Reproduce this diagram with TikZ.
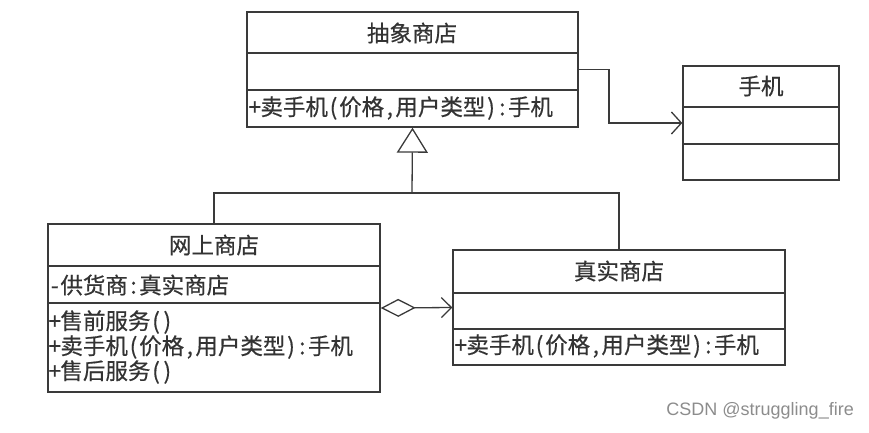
\documentclass[tikz,border=0pt]{standalone}
\usepackage{fontspec}
\newfontfamily\cjk[FakeBold=0.5]{Noto Sans CJK SC}
\newfontfamily\wm{Liberation Sans}
\usetikzlibrary{arrows.meta}
\definecolor{ln}{HTML}{3A3A3A}
\definecolor{tx}{HTML}{333333}
\newcommand\hw[1]{\makebox[0.5em]{#1}}
\tikzset{
  box/.style={draw=ln, line width=1.4pt, fill=white, inner sep=0pt},
  div/.style={draw=ln, line width=1.4pt},
  conn/.style={draw=ln, line width=1.3pt},
  ttl/.style={text=tx, font=\cjk\fontsize{22.5}{24}\selectfont, inner sep=0pt},
  mem/.style={text=tx, font=\cjk\fontsize{22.5}{24}\selectfont, inner sep=0pt, anchor=west},
}
\begin{document}
\begin{tikzpicture}[x=1pt,y=-1pt]
\useasboundingbox (0,0) rectangle (869,432);
% boxes
\node[box, minimum width=331, minimum height=115] (abs) at (412.5,69.5) {};
\node[box, minimum width=156, minimum height=114] (phone) at (761,123) {};
\node[box, minimum width=332, minimum height=168] (ws) at (214,308) {};
\node[box, minimum width=332, minimum height=115] (zs) at (619,307.5) {};
% dividers
\draw[div] (abs.west |- 0,53) -- (abs.east |- 0,53);
\draw[div] (abs.west |- 0,90) -- (abs.east |- 0,90);
\draw[div] (phone.west |- 0,107) -- (phone.east |- 0,107);
\draw[div] (phone.west |- 0,144) -- (phone.east |- 0,144);
\draw[div] (ws.west |- 0,266) -- (ws.east |- 0,266);
\draw[div] (ws.west |- 0,303) -- (ws.east |- 0,303);
\draw[div] (zs.west |- 0,293) -- (zs.east |- 0,293);
\draw[div] (zs.west |- 0,329) -- (zs.east |- 0,329);
% texts
\node[ttl] (absT) at (412,33) {抽象商店};
\node[mem] (absM) at (249,108) {\hw{+}卖手机\hw{(}价格\hw{,}用户类型\hw{)}\hw{:}手机};
\node[ttl] (phoneT) at (761,86) {手机};
\node[ttl] (wsT) at (214,245) {网上商店};
\node[mem] (wsA) at (49,285) {\hw{-}供货商\hw{:}真实商店};
\node[mem] (wsM1) at (49,322) {\hw{+}售前服务\hw{(}\hw{)}};
\node[mem] (wsM2) at (49,347) {\hw{+}卖手机\hw{(}价格\hw{,}用户类型\hw{)}\hw{:}手机};
\node[mem] (wsM3) at (49,372) {\hw{+}售后服务\hw{(}\hw{)}};
\node[ttl] (zsT) at (619,271) {真实商店};
\node[mem] (zsM) at (455,346) {\hw{+}卖手机\hw{(}价格\hw{,}用户类型\hw{)}\hw{:}手机};
% generalization
\coordinate (j) at (412,193);
\draw[conn] (ws.north) |- (j) -| (zs.north);
\draw[conn, -{Triangle[open, length=25pt, width=31pt, line width=1.3pt]}] (j) -- (abs.south);
% association
\coordinate (a1) at (609,69.5);
\draw[conn, -{Straight Barb[length=10pt, width=22pt, line width=1.3pt]}] (abs.east) -- (a1) |- (phone.west);
% aggregation
\draw[conn, {Diamond[open, length=35pt, width=18pt, line width=1.3pt]}-{Straight Barb[length=10pt, width=20pt, line width=1.3pt]}] (ws.east) -- (zs.west);
% watermark
\node[text=black!45, font=\wm\fontsize{18}{20}\selectfont, anchor=east, inner sep=0pt] (wmk) at (854,411) {CSDN @struggling\_fire};
\end{tikzpicture}
\end{document}
